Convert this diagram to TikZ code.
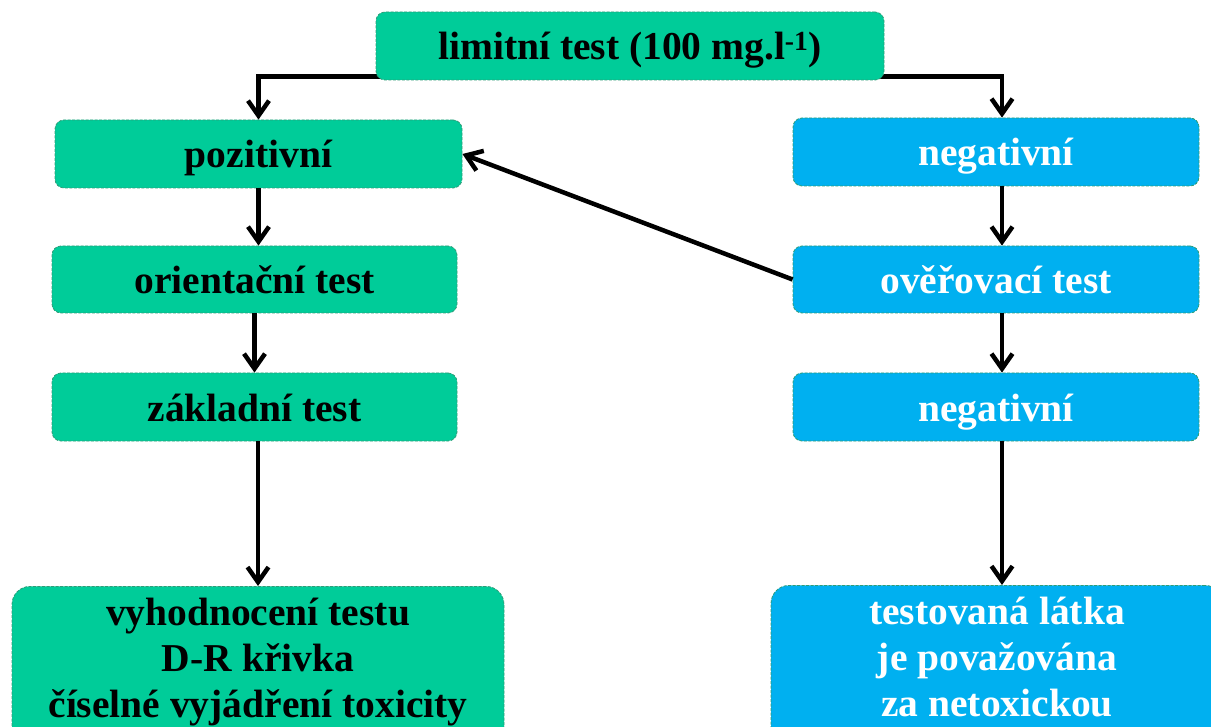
\documentclass[tikz,border=0pt]{standalone}
\usepackage{fontspec}
\setmainfont{Liberation Serif}
\usetikzlibrary{arrows.meta,calc}
\definecolor{greenfill}{HTML}{00CC99}
\definecolor{bluefill}{HTML}{00B0F0}
\definecolor{boxedge}{HTML}{2E9C78}
\begin{document}
\begin{tikzpicture}[x=1pt,y=-1pt,
  every node/.style={font=\fontsize{39.5}{46}\selectfont\bfseries},
  flowbox/.style={draw=boxedge, line width=0.8pt, dash pattern=on 3pt off 1.5pt,
    rounded corners=9pt, inner sep=0pt, text height=28pt, text depth=0pt},
  greenbox/.style={flowbox, fill=greenfill, text=black},
  bluebox/.style={flowbox, fill=bluefill, text=white},
  bigbox/.style={rounded corners=18pt, anchor=north, align=center, inner xsep=0pt,
    inner ysep=11pt, text height=120pt, text depth=50pt},
  arr/.style={line width=4.5pt, -{Straight Barb[length=15pt,width=21pt,line width=4.5pt]}},
]
\useasboundingbox (0,0) rectangle (1211,727);
\clip (0,0) rectangle (1211,727);

% columns
\coordinate (colL) at (258,0);
\coordinate (colR) at (1002,0);
\coordinate (fork) at (630,76.5);

% left column
\node[greenbox, minimum width=407pt, minimum height=68pt] (poz) at (258.5,154) {pozitivní};
\node[greenbox, minimum width=405pt, minimum height=67pt] (ori) at (254.5,279.5) {orientační test};
\node[greenbox, minimum width=405pt, minimum height=68pt] (zak) at (254.5,407) {základní test};
\node[greenbox, bigbox, minimum width=492pt] (vyh) at (258,586)
  {vyhodnocení testu\\D-R křivka\\číselné vyjádření toxicity};

% right column
\node[bluebox, minimum width=406pt, minimum height=68pt] (neg1) at (996,152) {negativní};
\node[bluebox, minimum width=406pt, minimum height=67pt] (ove) at (996,279.5) {ověřovací test};
\node[bluebox, minimum width=406pt, minimum height=68pt] (neg2) at (996,407) {negativní};
\node[bluebox, bigbox, minimum width=452pt] (tes) at (997,585)
  {testovaná látka\\ je považována\\za netoxickou};

% connectors
\draw[arr] (fork) -| (poz.north);
\draw[arr] (fork) -| (neg1.north -| colR);
\draw[arr] (poz.south) -- (poz.south |- ori.north);
\draw[arr] (ori.south) -- (ori.south |- zak.north);
\draw[arr] (zak.south -| vyh.north) -- (vyh.north);
\draw[arr] (neg1.south -| colR) -- (ove.north -| colR);
\draw[arr] (ove.south -| colR) -- (neg2.north -| colR);
\draw[arr] (neg2.south -| colR) -- (tes.north -| colR);
\draw[arr] (ove.west) -- (poz.east);

% top box (drawn over the fork line)
\node[greenbox, minimum width=508pt, minimum height=68pt] (top) at (630,46)
  {limitní test (100 mg.l\textsuperscript{-1})};
\end{tikzpicture}
\end{document}
